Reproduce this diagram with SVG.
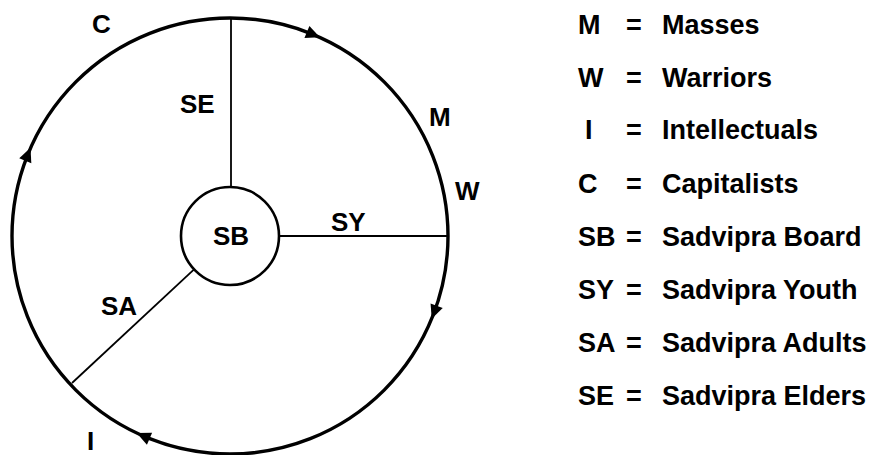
<svg xmlns="http://www.w3.org/2000/svg" width="872" height="455" viewBox="0 0 872 455">
  <style>
    .lbl { font-family: "Liberation Sans", Arial, sans-serif; font-weight: bold; font-size: 26px; fill: #000; }
    .leg { font-family: "Liberation Sans", Arial, sans-serif; font-weight: bold; font-size: 27px; fill: #000; }
    .ring { fill: none; stroke: #000; stroke-width: 3.4; }
    .hub { fill: #fff; stroke: #000; stroke-width: 2.6; }
    .spoke { stroke: #000; stroke-width: 1.8; fill: none; }
    .ah { fill: #000; stroke: none; }
  </style>
  <defs>
    <path id="arrowhead" class="ah" d="M7,0 L-7,-6.5 L-7,6.5 Z"/>
  </defs>
  <rect width="872" height="455" fill="#fff"/>

  <g id="cycle">
    <circle class="ring" cx="230" cy="236" r="218"/>
  </g>

  <g id="connectors">
    <line class="spoke" x1="231" y1="18" x2="231" y2="187"/>
    <line class="spoke" x1="280" y1="236" x2="447" y2="236"/>
    <line class="spoke" x1="193.8" y1="269.7" x2="72" y2="383"/>
    <use href="#arrowhead" transform="translate(313.4,34.6) rotate(22.5)"/>
    <use href="#arrowhead" transform="translate(434.2,312.3) rotate(110.5)"/>
    <use href="#arrowhead" transform="translate(143.1,435.9) rotate(203.5)"/>
    <use href="#arrowhead" transform="translate(27.9,154.3) rotate(292)"/>
  </g>

  <g id="node-SB">
    <circle class="hub" cx="230" cy="236" r="49"/>
    <text class="lbl" x="231" y="245" text-anchor="middle">SB</text>
  </g>
  <g id="label-SE"><text class="lbl" x="180" y="113">SE</text></g>
  <g id="label-SY"><text class="lbl" x="331" y="230.5">SY</text></g>
  <g id="label-SA"><text class="lbl" x="101" y="315">SA</text></g>
  <g id="label-C"><text class="lbl" x="92" y="33">C</text></g>
  <g id="label-M"><text class="lbl" x="429" y="126">M</text></g>
  <g id="label-W"><text class="lbl" x="455" y="200">W</text></g>
  <g id="label-I"><text class="lbl" x="87" y="450">I</text></g>

  <g id="legend">
    <text class="leg" x="578" y="34">M</text><text class="leg" x="626" y="34">=</text><text class="leg" x="662" y="34">Masses</text>
    <text class="leg" x="578" y="87">W</text><text class="leg" x="626" y="87">=</text><text class="leg" x="662" y="87">Warriors</text>
    <text class="leg" x="585" y="139">I</text><text class="leg" x="626" y="139">=</text><text class="leg" x="662" y="139">Intellectuals</text>
    <text class="leg" x="578" y="193">C</text><text class="leg" x="626" y="193">=</text><text class="leg" x="662" y="193">Capitalists</text>
    <text class="leg" x="578" y="246">SB</text><text class="leg" x="626" y="246">=</text><text class="leg" x="662" y="246">Sadvipra Board</text>
    <text class="leg" x="578" y="299">SY</text><text class="leg" x="626" y="299">=</text><text class="leg" x="662" y="299">Sadvipra Youth</text>
    <text class="leg" x="578" y="352">SA</text><text class="leg" x="626" y="352">=</text><text class="leg" x="662" y="352">Sadvipra Adults</text>
    <text class="leg" x="578" y="405">SE</text><text class="leg" x="626" y="405">=</text><text class="leg" x="662" y="405">Sadvipra Elders</text>
  </g>
</svg>
